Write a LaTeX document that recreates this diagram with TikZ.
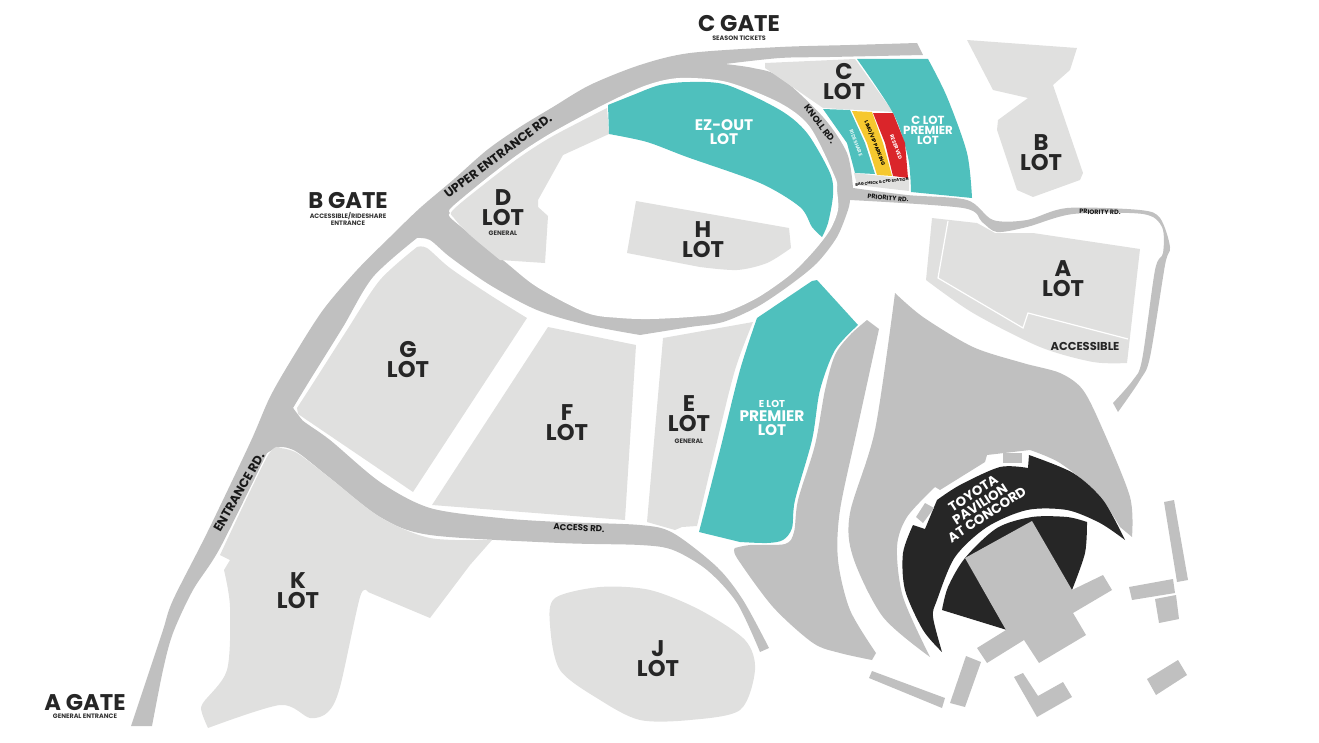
\documentclass[tikz,border=0pt]{standalone}
\usepackage{xcolor}
\usepackage{fontspec}
\setmainfont{Poppins}
\definecolor{roadgray}{RGB}{192,192,192}
\definecolor{lotgray}{RGB}{224,224,223}
\definecolor{premier}{RGB}{79,192,189}
\definecolor{pavilion}{RGB}{38,38,38}
\definecolor{reserved}{RGB}{218,37,42}
\definecolor{limo}{RGB}{246,200,47}
\tikzstyle{road}=[fill=roadgray]
\tikzstyle{lot}=[fill=lotgray]
\tikzstyle{teal lot}=[fill=premier]
\tikzstyle{lotlabel}=[font=\fontsize{17}{15}\selectfont\bfseries,align=center,text=black!85,inner sep=0pt]
\tikzstyle{whitelabel}=[font=\fontsize{11.5}{10.5}\selectfont\bfseries,align=center,text=white,inner sep=0pt]
\tikzstyle{gatelabel}=[font=\fontsize{17}{17}\selectfont\bfseries,text=black!85,inner sep=0pt]
\tikzstyle{sublabel}=[font=\fontsize{4.8}{4.9}\selectfont\bfseries,align=center,text=black!80,inner sep=0pt]
\tikzstyle{roadlabel}=[font=\fontsize{9.3}{10}\selectfont\bfseries,text=black!90,inner sep=0pt]
\tikzstyle{smalllabel}=[font=\fontsize{3.8}{4}\selectfont\bfseries,inner sep=0pt]
\begin{document}
\begin{tikzpicture}[x=.75pt,y=-.75pt]
  \useasboundingbox (0,0) rectangle (1319,742);

  %% Roads
  \fill[road] plot[smooth] coordinates {(131,726) (147,678) (163,630) (173,600) (207,533) (250,443) (270,397) (293,357) (323,310) (357,270) (390,237) (420,208) (453,180) (487,150) (520,127) (553,107) (590,85) (640,65) (690,53) (780,47) (850,45) (917,43)}
    -- (923,55)
    -- plot[smooth] coordinates {(923,55) (830,57) (780,58) (725,64)}
    -- plot[smooth] coordinates {(725,64) (753,68) (780,77) (823,117) (847,153) (853,188)}
    -- plot[smooth] coordinates {(853,188) (907,195) (967,200) (993,220) (1027,220) (1067,208) (1140,210) (1160,218) (1170,247) (1165,265) (1150,357) (1140,380) (1118,412)}
    -- plot[smooth] coordinates {(1113,403) (1133,380) (1142,360) (1155,270) (1163,253) (1162,227) (1143,214) (1073,214) (1027,227) (997,232) (982,222) (963,208) (850,200)}
    -- plot[smooth] coordinates {(850,200) (848,210) (837,237) (817,263) (790,285) (757,307) (723,322) (690,327) (640,335)}
    -- plot[smooth] coordinates {(640,335) (587,325) (537,310) (490,285) (450,257) (430,240) (417,238)}
    -- plot[smooth] coordinates {(417,238) (373,277) (343,327) (310,380) (293,408)}
    -- (302,420) -- (267,453)
    -- plot[smooth] coordinates {(267,453) (220,548) (193,590) (173,633) (163,670) (152,726)}
    -- cycle;
  \fill[road] plot[smooth] coordinates {(293,408) (302,420) (330,440) (380,482) (430,508) (500,518) (560,522) (640,525) (673,533) (717,567) (743,600) (769,648)}
    -- plot[smooth] coordinates {(760,652) (737,603) (707,570) (673,550) (640,545) (560,543) (430,535) (380,517) (330,478) (297,452) (280,447) (267,453)}
    -- cycle;
  \fill[white] plot[smooth cycle] coordinates {(607,103) (647,85) (680,78) (727,82) (780,103) (810,127) (835,177) (837,190) (838,210) (830,230) (813,252) (790,275) (757,298) (723,313) (690,317) (650,319) (620,318) (587,313) (537,287) (503,260) (453,220) (450,213) (452,207) (487,178) (520,153) (553,132)};

  %% Lots
  \fill[lot] (607,108) -- (609,134) -- (563,155) -- (538,200) -- (538,207) -- (548,216) -- (545,263) -- (500,260)
    -- plot[smooth] coordinates {(500,260) (470,235) (454,218) (453,210) (487,182) (520,157) (553,136) (607,108)} -- cycle;
  \fill[teal lot] plot[smooth] coordinates {(608,105) (633,95) (660,85) (690,82) (727,85) (780,110) (807,133) (830,173) (833,195) (828,223) (822,237)}
    -- plot[smooth] coordinates {(822,237) (812,227) (800,207) (760,183) (687,157) (647,142) (609,134)} -- cycle;
  \fill[lot] (636,201) -- (789,228) -- (791,248) -- plot[smooth] coordinates {(791,248) (767,263) (737,270) (700,267)} -- (627,253) -- cycle;
  \fill[teal lot] (817,280) -- (858,325)
    -- plot[smooth] coordinates {(858,325) (835,350) (820,390) (812,440) (795,500) (792,528) (783,540) (767,543) (740,542)}
    -- (699,532) -- plot[smooth] coordinates {(699,532) (720,450) (740,370) (757,318)} -- (812,281) -- cycle;
  \fill[lot] (663,338) -- (753,322) -- plot[smooth] coordinates {(753,322) (735,370) (715,450) (697,526)} -- (682,527) -- (675,530) -- (647,522) -- cycle;
  \fill[lot] (548,327) -- (636,345) -- (625,520) -- (432,505) -- cycle;
  \fill[lot] plot[smooth] coordinates {(417,247) (427,248) (450,268) (490,295) (527,318)} -- (413,492) -- (298,414)
    -- plot[smooth] coordinates {(297,408) (317,377) (347,330) (380,280) (417,247)} -- cycle;
  \fill[lot] plot[smooth] coordinates {(280,448) (267,457) (220,555)} -- (230,560) -- (224,570)
    -- plot[smooth] coordinates {(224,570) (230,607) (227,670) (203,703) (202,713) (208,728)}
    -- plot[smooth] coordinates {(208,728) (280,705) (310,718) (328,712) (340,687) (360,597) (368,592)}
    -- (430,618) -- (470,565) -- (492,540)
    -- plot[smooth] coordinates {(492,540) (430,538) (380,517) (330,478) (297,453) (280,448)} -- cycle;
  \fill[lot] plot[smooth cycle] coordinates {(600,587) (555,598) (550,625) (560,670) (600,700) (640,720) (690,720) (740,710) (755,670) (745,640) (700,610) (650,590)};
  \fill[lot] (967,40) -- (1077,48) -- (1070,70) -- (1053,85) -- (1083,173) -- (1080,180) -- (1033,197) -- (1017,190) -- (997,130) -- (998,120) -- (1028,98) -- (993,90) -- cycle;
  \fill[lot] (765,63) -- (855,59) -- (893,112) -- (823,108) -- (765,68) -- cycle;
  \fill[lot] (932,218) -- (977,223) -- (995,233) -- (1033,233) -- (1140,249) -- (1127,363)
    -- plot[smooth] coordinates {(1127,363) (1093,362) (1040,347) (973,313) (926,280)} -- cycle;
  \draw[white,line width=.9pt] (948,221) -- (938,278) -- (1023,328) -- (1028,313) -- (1128,339);

  %% C lot strips
  \fill[teal lot] (857,59) -- (928,59) -- plot[smooth] coordinates {(928,59) (947,97) (967,153) (972,198)} -- (911,192)
    -- plot[smooth] coordinates {(911,192) (908,157) (893,113) (857,59)} -- cycle;
  \fill[teal lot] (823,109) -- (850,110) -- (865,143) -- (875,174) -- (855,173) -- (847,143) -- cycle;
  \fill[limo] (852,111) -- (872,112) -- (883,143) -- (892,176) -- (877,175) -- (867,143) -- cycle;
  \fill[reserved] (873,113) -- (893,113) -- (905,143) -- (908,178) -- (893,176) -- (885,143) -- cycle;
  \fill[lot] (854,173) -- (909,179) -- (909,191) -- (857,185) -- cycle;

  %% Lawns
  \fill[road] plot[smooth] coordinates {(895,293) (923,317) (973,347) (1023,363) (1060,373) (1083,390) (1103,430) (1130,497) (1132,537)}
    -- plot[smooth] coordinates {(1120,527) (1097,493) (1060,463) (1030,450)}
    -- (987,455) -- (985,462) -- (940,490) -- (935,487)
    -- plot[smooth] coordinates {(935,487) (907,517) (897,547) (903,597) (930,657)}
    -- plot[smooth] coordinates {(930,657) (883,617) (853,557) (850,513) (875,430) (895,293)} -- cycle;
  \fill[road] (867,320) -- (879,329) -- plot[smooth] coordinates {(879,329) (857,430) (840,510) (838,560) (850,610) (876,653)}
    -- (872,660) -- plot[smooth] coordinates {(872,660) (840,653) (813,643) (773,607) (737,558) (735,548)}
    -- plot[smooth] coordinates {(735,548) (750,545) (785,544) (794,532) (798,500) (815,445) (825,390) (835,355) (850,335) (867,320)} -- cycle;

  %% Pavilion
  \fill[pavilion] plot[smooth] coordinates {(1125,540) (1103,500) (1073,473) (1029,455)} -- (1028,468)
    -- plot[smooth] coordinates {(1028,468) (1000,467) (960,485) (937,500)} -- (925,529) -- (913,525)
    -- plot[smooth] coordinates {(913,525) (903,553) (905,590) (923,630) (942,652)}
    -- plot[smooth] coordinates {(942,652) (933,617) (937,600) (955,557) (987,527) (1027,510) (1067,510) (1100,523) (1125,540)} -- cycle;
  \fill[pavilion] plot[smooth] coordinates {(942,610) (948,587) (965,558) (997,528) (1032,517) (1067,517) (1087,522)}
    -- plot[smooth] coordinates {(1087,522) (1085,553) (1072,590)} -- (1007,630) -- cycle;
  \fill[road] (965,558) -- (1032,521) -- (1072,590) -- (1103,575) -- (1112,590) -- (1073,613) -- (1086,635) -- (1039,663) -- (1024,640) -- (987,663) -- (977,648) -- (1006,630) -- cycle;

  %% Small buildings
  \fill[road] (1003,453) -- (1022,453) -- (1022,463) -- (1003,463) -- cycle;
  \fill[road] (925,503) -- (934,508) -- (923,523) -- (916,517) -- cycle;
  \fill[road] (1164,502) -- (1174,500) -- (1188,580) -- (1177,582) -- cycle;
  \fill[road] (1129,587) -- (1173,579) -- (1175,593) -- (1132,600) -- cycle;
  \fill[road] (1155,599) -- (1176,595) -- (1179,619) -- (1159,623) -- cycle;
  \fill[road] (1178,660) -- (1187,675) -- (1156,695) -- (1147,679) -- cycle;
  \fill[road] (1014,677) -- (1023,673) -- (1038,696) -- (1063,682) -- (1072,697) -- (1037,717) -- cycle;
  \fill[road] (966,656) -- (981,662) -- (965,707) -- (950,703) -- cycle;
  \fill[road] (872,671) -- (945,698) -- (942,708) -- (869,678) -- cycle;

  %% Gates
  \draw (739,24) node[gatelabel] (Cgate) {C GATE};
  \draw (739,38) node[sublabel] (Csub) {SEASON TICKETS};
  \draw (348,201) node[gatelabel] (Bgate) {B GATE};
  \draw (348,219) node[sublabel] (Bsub) {ACCESSIBLE/RIDESHARE\\ENTRANCE};
  \draw (85,702) node[gatelabel] (Agate) {A GATE};
  \draw (85,716) node[sublabel] (Asub) {GENERAL ENTRANCE};

  %% Lot names
  \draw (844,82) node[lotlabel] (Clot) {C\\LOT};
  \draw (1041,153) node[lotlabel] (Blot) {B\\LOT};
  \draw (503,208) node[lotlabel] (Dlot) {D\\LOT};
  \draw (503,233) node[sublabel] (Dsub) {GENERAL};
  \draw (703,240) node[lotlabel] (Hlot) {H\\LOT};
  \draw (1063,279) node[lotlabel] (Alot) {A\\LOT};
  \draw (1085,346) node[font=\fontsize{8.6}{10}\selectfont\bfseries,text=black!85,inner sep=0pt] (Asubl) {ACCESSIBLE};
  \draw (408,360) node[lotlabel] (Glot) {G\\LOT};
  \draw (567,423) node[lotlabel] (Flot) {F\\LOT};
  \draw (689,414) node[lotlabel] (Elot) {E\\LOT};
  \draw (689,441) node[sublabel] (Esub) {GENERAL};
  \draw (298,591) node[lotlabel] (Klot) {K\\LOT};
  \draw (658,659) node[lotlabel] (Jlot) {J\\LOT};

  %% Teal lot names
  \draw (724,132) node[whitelabel] (EZlot) {EZ-OUT\\LOT};
  \draw (928,130) node[whitelabel,font=\fontsize{8.8}{7.5}\selectfont\bfseries] (CPlot) {C LOT\\PREMIER\\LOT};
  \draw (772,418) node[whitelabel] (EPlot) {\fontsize{7.5}{10.5}\selectfont E LOT\\PREMIER\\LOT};

  %% Strips
  \draw (856,143) node[smalllabel,text=white!80!premier,rotate=-69] (Rideshare) {RIDESHARE};
  \draw (875,143) node[smalllabel,text=black,rotate=-68] (Limo) {LIMO/VIP PARKING};
  \draw (896,147) node[smalllabel,text=white,rotate=-69] (Reserved) {RESERVED};
  \draw (882,182) node[smalllabel,font=\fontsize{2.9}{4}\selectfont\bfseries,text=black,rotate=6] (Bagcheck) {BAG CHECK \& CPD STATION};

  %% Road names
  \draw (498,156) node[roadlabel,rotate=37] (UpperRd) {UPPER ENTRANCE RD.};
  \draw (239,492) node[roadlabel,rotate=60] (EntranceRd) {ENTRANCE RD.};
  \draw (820,124) node[roadlabel,font=\fontsize{6.8}{7}\selectfont\bfseries,rotate=-53] (KnollRd) {KNOLL RD.};
  \draw (888,198) node[roadlabel,font=\fontsize{4.8}{6}\selectfont\bfseries,rotate=-5] (PriorityA) {PRIORITY RD.};
  \draw (1100,212) node[roadlabel,font=\fontsize{4.8}{6}\selectfont\bfseries,rotate=-1] (PriorityB) {PRIORITY RD.};
  \draw (579,528) node[roadlabel,font=\fontsize{6.5}{7}\selectfont\bfseries,rotate=-3] (AccessRd) {ACCESS RD.};
  \draw (980,504) node[whitelabel,font=\fontsize{10}{9.4}\selectfont\bfseries,rotate=33] (Pavlabel) {TOYOTA\\PAVILION\\AT CONCORD};
\end{tikzpicture}
\end{document}
